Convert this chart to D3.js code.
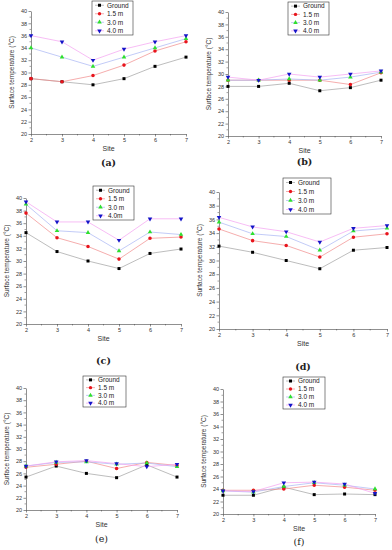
<!DOCTYPE html>
<html>
<head>
<meta charset="utf-8">
<script src="https://cdnjs.cloudflare.com/ajax/libs/d3/7.8.5/d3.min.js"></script>
<style>
  body { margin: 0; background: #fff; }
  text { font-family: "Liberation Sans", Arial, sans-serif; }
</style>
</head>
<body>
<script>
// sites on the x axis and the four heights
var sites = [2, 3, 4, 5, 6, 7];
var seriesNames = ['Ground', '1.5 m', '3.0 m', '4.0 m'];
var yTicks = [20, 22, 24, 26, 28, 30, 32, 34, 36, 38, 40];
var captions = ['(a)', '(b)', '(c)', '(d)', '(e)', '(f)'];

// surface temperature per panel, one row per series (Ground, 1.5, 3.0, 4.0)
var tempA = [
  [29, 28.5, 28, 29, 31, 32.5],
  [29, 28.5, 29.5, 31.2, 33.5, 35],
  [34, 32.5, 31, 32.5, 34, 35.5],
  [36, 35, 32, 33.8, 35, 36]
];
var tempB = [
  [28, 28, 28.5, 27.3, 27.8, 29],
  [29, 29, 29, 29, 28.3, 30.2],
  [29, 29, 29.2, 29, 29.5, 30.3],
  [29.5, 29, 30, 29.5, 30, 30.5]
];
var tempC = [
  [34.5, 31.5, 30, 28.8, 31.2, 31.9],
  [37.6, 33.7, 32.3, 30.3, 33.6, 33.8],
  [39, 34.8, 34.5, 31.6, 34.6, 34.2],
  [39.4, 36.2, 36.2, 33.3, 36.7, 36.7]
];
var tempD = [
  [32.1, 31.2, 30, 28.8, 31.5, 31.9],
  [34.6, 32.9, 32.2, 30.5, 33.4, 33.9],
  [35.6, 33.9, 33.5, 31.5, 34.3, 34.7],
  [36.3, 34.9, 34.2, 32.7, 34.7, 35.1]
];
var tempE = [
  [25.4, 27.2, 26, 25.3, 27.4, 25.4],
  [27, 27.5, 28, 26.8, 27.8, 27.3],
  [27.2, 27.8, 27.9, 27.5, 27.7, 27.1],
  [27.2, 27.9, 28.1, 27.6, 27.1, 27.5]
];
var tempF = [
  [23, 23, 24.3, 23.1, 23.2, 23.1],
  [23.8, 23.8, 24, 24.6, 24.3, 23.8],
  [23.7, 23.5, 24.4, 25, 24.6, 24],
  [23.7, 23.6, 25, 25.1, 24.8, 23.3]
];

var markColors = ['#000', '#e8141c', '#2ee02e', '#1414c8'];
var lineColors = ['#a0a0a0', '#f08a8a', '#a8b4f4', '#f4a0f0'];
var symbols = [d3.symbolSquare, d3.symbolCircle, d3.symbolTriangle, d3.symbolTriangle];

var W = 392, H = 550;
var svg = d3.select('body').append('svg').attr('width', W).attr('height', H);

// plot frames
var panels = [
  {data: tempA, l: 31, r: 186, t: 11, b: 134, lg: [92, 1, 41, 34], cap: 166, bold: true, names: seriesNames},
  {data: tempB, l: 228, r: 381, t: 12, b: 136, lg: [288, 2, 41, 33], cap: 165, bold: true, names: seriesNames},
  {data: tempC, l: 26, r: 181, t: 198, b: 324, lg: [93, 186, 41, 34], cap: 364, bold: true,
    names: ['Ground', '1.5 m', '3.0 m', '4.0m']},
  {data: tempD, l: 219, r: 387, t: 192, b: 329, lg: [283, 178, 48, 36], cap: 370, bold: true, names: seriesNames},
  {data: tempE, l: 26, r: 177, t: 388, b: 510, lg: [83, 376, 43, 31], cap: 542, bold: false, names: seriesNames},
  {data: tempF, l: 223, r: 375, t: 389, b: 514, lg: [283, 377, 42, 32], cap: 545, bold: false, names: seriesNames}
];

panels.forEach(function (p, pi) {
  var g = svg.append('g');
  var x = d3.scaleLinear().domain([2, 7]).range([p.l, p.r]);
  var y = d3.scaleLinear().domain([20, 40]).range([p.b, p.t]);

  // axes
  var xAxis = d3.axisBottom(x).tickValues(sites).tickFormat(d3.format('d'))
    .tickSize(2.5).tickSizeOuter(0).tickPadding(1.5);
  var yAxis = d3.axisLeft(y).tickValues(yTicks).tickFormat(d3.format('d'))
    .tickSize(2.5).tickSizeOuter(0).tickPadding(1.5);
  var gx = g.append('g').attr('transform', 'translate(0,' + p.b + ')').call(xAxis);
  var gy = g.append('g').attr('transform', 'translate(' + p.l + ',0)').call(yAxis);
  [gx, gy].forEach(function (a) {
    a.selectAll('path,line').attr('stroke', '#444').attr('stroke-width', 0.6);
    a.selectAll('text').attr('font-size', 5.5).attr('fill', '#333')
      .style('font-family', '"Liberation Sans", Arial, sans-serif');
  });
  // minor ticks
  g.selectAll('.mx').data(d3.range(2.5, 7, 1)).enter().append('line')
    .attr('x1', function (d) { return x(d); }).attr('x2', function (d) { return x(d); })
    .attr('y1', p.b).attr('y2', p.b + 1.5).attr('stroke', '#444').attr('stroke-width', 0.5);
  g.selectAll('.my').data(d3.range(21, 40, 2)).enter().append('line')
    .attr('y1', function (d) { return y(d); }).attr('y2', function (d) { return y(d); })
    .attr('x1', p.l).attr('x2', p.l - 1.5).attr('stroke', '#444').attr('stroke-width', 0.5);

  // axis titles
  g.append('text').attr('x', (p.l + p.r) / 2).attr('y', p.b + 17).attr('text-anchor', 'middle')
    .attr('font-size', 7).attr('fill', '#333').text('Site');
  g.append('text').attr('transform', 'translate(' + (p.l - 17) + ',' + ((p.t + p.b) / 2) + ') rotate(-90)')
    .attr('text-anchor', 'middle').attr('font-size', 6.5).attr('fill', '#333').text('Surface temperature (°C)');

  // caption
  g.append('text').attr('x', (p.l + p.r) / 2).attr('y', p.cap).attr('text-anchor', 'middle')
    .attr('font-size', 9.5).attr('font-weight', p.bold ? 'bold' : 'normal')
    .style('font-family', '"DejaVu Serif", "Liberation Serif", serif').attr('fill', '#222')
    .text(captions[pi]);

  // series
  var line = d3.line().x(function (d, i) { return x(sites[i]); }).y(function (d) { return y(d); });
  p.data.forEach(function (vals, si) {
    g.append('path').datum(vals).attr('d', line).attr('fill', 'none')
      .attr('stroke', lineColors[si]).attr('stroke-width', 0.7);
  });
  p.data.forEach(function (vals, si) {
    g.selectAll('.s' + si).data(vals).enter().append('path')
      .attr('d', d3.symbol().type(symbols[si]).size(si === 1 ? 10 : 9))
      .attr('transform', function (d, i) {
        return 'translate(' + x(sites[i]) + ',' + y(d) + ')' + (si === 3 ? ' rotate(180)' : '');
      })
      .attr('fill', markColors[si]);
  });

  // legend
  var lg = p.lg;
  g.append('rect').attr('x', lg[0]).attr('y', lg[1]).attr('width', lg[2]).attr('height', lg[3])
    .attr('fill', '#fff').attr('stroke', '#333').attr('stroke-width', 0.6);
  var step = lg[3] / 4;
  p.names.forEach(function (name, si) {
    var cy = lg[1] + step * (si + 0.5);
    var x0 = lg[0] + 3;
    g.append('line').attr('x1', x0).attr('x2', x0 + 9).attr('y1', cy).attr('y2', cy)
      .attr('stroke', lineColors[si]).attr('stroke-width', 0.7);
    g.append('path').attr('d', d3.symbol().type(symbols[si]).size(9))
      .attr('transform', 'translate(' + (x0 + 4.5) + ',' + cy + ')' + (si === 3 ? ' rotate(180)' : ''))
      .attr('fill', markColors[si]);
    g.append('text').attr('x', x0 + 12).attr('y', cy + 2.3).attr('font-size', 6.5).attr('fill', '#222').text(name);
  });
});
</script>
</body>
</html>
